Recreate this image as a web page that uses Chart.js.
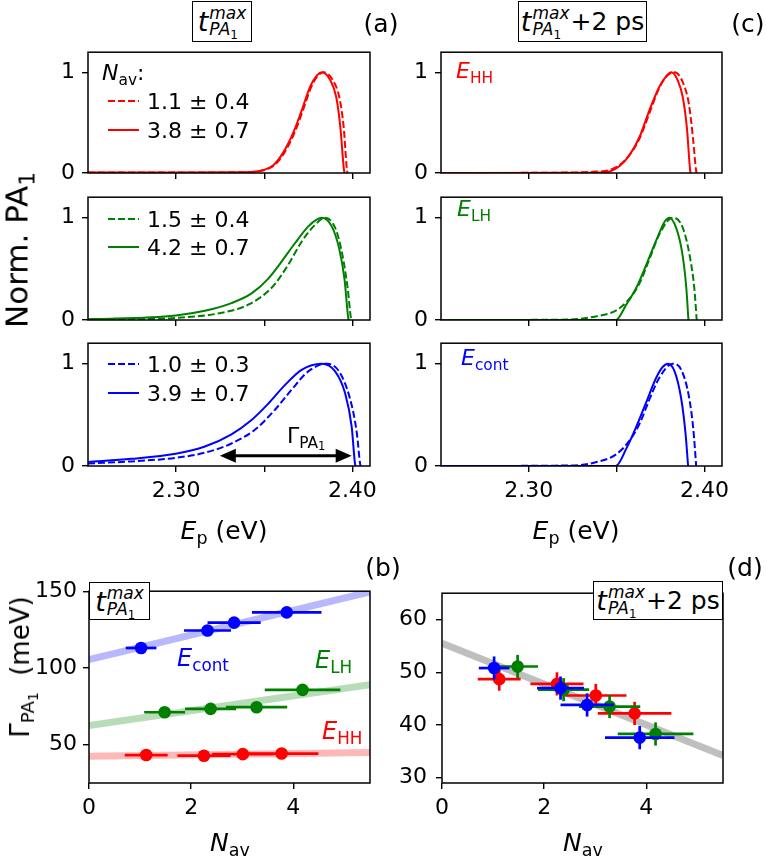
<!DOCTYPE html>
<html>
<head>
<meta charset="utf-8">
<script src="https://cdn.jsdelivr.net/npm/chart.js@4.4.0/dist/chart.umd.min.js"></script>
<style>
  body { margin: 0; background: #fff; font-family: 'DejaVu Sans', sans-serif; }
  #wrap { position: relative; width: 767px; height: 858px; overflow: hidden; }
  canvas { position: absolute; }
  .t { position: absolute; white-space: nowrap; line-height: 1; color: #000; }
  .i { font-style: italic; }
  .sb { font-size: 70%; position: relative; top: 0.3em; }
  .box { position: absolute; box-sizing: border-box; border: 1.3px solid #000; background: #fff;
         display: flex; align-items: center; justify-content: center; white-space: nowrap; }
  .stk { display: inline-flex; flex-direction: column; font-size: 17px; line-height: 0.95; margin-left: 1px; }
  .leg { position: absolute; display: flex; align-items: center; font-size: 22px; white-space: nowrap; }
  .leg svg { margin-right: 8px; }
</style>
</head>
<body>
<div id="wrap"></div>
<script>
// ---- (a) PA1 spectra at t_max, energies in eV, normalised PA1 ----
const aHHdashE = [2.25, 2.30, 2.335, 2.3445, 2.3502, 2.356, 2.3617, 2.3674, 2.3721, 2.3768, 2.3806, 2.3838, 2.389, 2.3926, 2.3951, 2.3968, 2.3972];
const aHHdashY = [0.005, 0.005, 0.007, 0.012, 0.03, 0.08, 0.21, 0.41, 0.63, 0.86, 0.97, 1.0, 0.92, 0.75, 0.45, 0.05, 0];
const aHHsolE  = [2.25, 2.30, 2.335, 2.3439, 2.3496, 2.3553, 2.361, 2.3667, 2.3714, 2.3761, 2.3799, 2.3828, 2.3875, 2.3909, 2.3932, 2.3951, 2.3955];
const aHHsolY  = [0.005, 0.005, 0.007, 0.012, 0.03, 0.08, 0.21, 0.41, 0.63, 0.86, 0.97, 1.0, 0.92, 0.75, 0.45, 0.05, 0];

const aLHdashE = [2.25, 2.28, 2.2998, 2.3258, 2.3409, 2.3542, 2.3636, 2.3712, 2.3788, 2.3845, 2.3905, 2.3943, 2.3973, 2.3992, 2.3995];
const aLHdashY = [0.0, 0.008, 0.02, 0.07, 0.15, 0.315, 0.54, 0.765, 0.93, 1.0, 0.89, 0.64, 0.315, 0.015, 0];
const aLHsolE  = [2.25, 2.2557, 2.2998, 2.3163, 2.3314, 2.3428, 2.3523, 2.3598, 2.3674, 2.375, 2.3797, 2.3826, 2.3883, 2.3924, 2.3955, 2.3977, 2.398];
const aLHsolY  = [0.008, 0.01, 0.045, 0.09, 0.165, 0.26, 0.405, 0.57, 0.75, 0.915, 0.98, 1.0, 0.915, 0.705, 0.405, 0.015, 0];

const aContDashE = [2.25, 2.2746, 2.2998, 2.3163, 2.3314, 2.3447, 2.3561, 2.3655, 2.375, 2.3854, 2.3924, 2.3987, 2.4025, 2.4044, 2.4047];
const aContDashY = [0.025, 0.045, 0.08, 0.13, 0.22, 0.355, 0.55, 0.745, 0.925, 1.0, 0.925, 0.655, 0.325, 0.02, 0];
const aContSolE  = [2.25, 2.2746, 2.2998, 2.3163, 2.3314, 2.3428, 2.3523, 2.3617, 2.3712, 2.3826, 2.3902, 2.3958, 2.3996, 2.4015, 2.4018];
const aContSolY  = [0.04, 0.07, 0.12, 0.19, 0.31, 0.45, 0.61, 0.79, 0.94, 1.0, 0.925, 0.715, 0.385, 0.02, 0];

// ---- (c) PA1 spectra at t_max + 2 ps ----
const cHHdashE = [2.25, 2.32, 2.3365, 2.346, 2.3517, 2.3574, 2.3631, 2.3688, 2.3744, 2.379, 2.383, 2.3877, 2.3911, 2.3934, 2.3953, 2.3956];
const cHHdashY = [0, 0.004, 0.012, 0.03, 0.08, 0.18, 0.345, 0.6, 0.85, 0.97, 1.0, 0.9, 0.69, 0.36, 0.02, 0];
const cHHsolE  = [2.25, 2.33, 2.3403, 2.346, 2.3517, 2.3574, 2.3631, 2.3688, 2.3744, 2.3782, 2.3811, 2.3848, 2.3877, 2.39, 2.3919, 2.3922];
const cHHsolY  = [0, 0.002, 0.005, 0.015, 0.07, 0.18, 0.36, 0.63, 0.86, 0.96, 1.0, 0.92, 0.75, 0.45, 0.02, 0];

const cLHdashE = [2.25, 2.3176, 2.3365, 2.3498, 2.3574, 2.3631, 2.3688, 2.3744, 2.382, 2.3877, 2.3919, 2.3943, 2.3956];
const cLHdashY = [0, 0.003, 0.03, 0.095, 0.21, 0.36, 0.6, 0.84, 1.0, 0.9, 0.6, 0.3, 0];
const cLHsolE  = [2.25, 2.3495, 2.3555, 2.3612, 2.3669, 2.3726, 2.3773, 2.3801, 2.3839, 2.3873, 2.3896, 2.3909];
const cLHsolY  = [0, 0, 0.15, 0.315, 0.54, 0.78, 0.96, 1.0, 0.9, 0.66, 0.33, 0];

const cContDashE = [2.25, 2.3233, 2.3365, 2.3498, 2.3574, 2.3631, 2.3688, 2.3744, 2.382, 2.3868, 2.3911, 2.3937, 2.3953];
const cContDashY = [0, 0.005, 0.03, 0.115, 0.25, 0.415, 0.655, 0.865, 1.0, 0.94, 0.685, 0.355, 0];
const cContSolE  = [2.25, 2.3495, 2.3555, 2.3612, 2.3669, 2.3726, 2.3763, 2.3792, 2.383, 2.3868, 2.3892, 2.3907];
const cContSolY  = [0, 0, 0.17, 0.385, 0.625, 0.865, 0.97, 1.0, 0.925, 0.655, 0.325, 0];

const legendHH = ['1.1 ± 0.4', '3.8 ± 0.7'];
const legendLH = ['1.5 ± 0.4', '4.2 ± 0.7'];
const legendCont = ['1.0 ± 0.3', '3.9 ± 0.7'];

// width arrow in the lowest (a) panel
const arrowE = [2.3248, 2.3996];
const arrowY = 0.1;

const eTicks = [2.30, 2.35, 2.40];
const eTickLabels = ['2.30', '', '2.40'];
const normTicks = [0, 1];

// ---- (b), (d) linewidth vs N_av ----
const nHH = [1.12, 2.25, 3.01, 3.77];
const nErrHH = [0.42, 0.52, 0.6, 0.72];
const nLH = [1.48, 2.38, 3.28, 4.18];
const nErrLH = [0.4, 0.5, 0.6, 0.74];
const nCont = [1.02, 2.32, 2.84, 3.87];
const nErrCont = [0.3, 0.46, 0.52, 0.68];

const gMaxHH = [43.2, 42.8, 43.8, 44.2];
const gMaxLH = [71.1, 73.3, 74.4, 85.7];
const gMaxCont = [113, 124.4, 129.5, 136.2];

const g2psHH = [48.7, 47.8, 45.6, 42.2];
const g2psLH = [51.1, 46.7, 43.5, 38.3];
const g2psCont = [50.8, 47.0, 43.8, 37.6];
const g2psErr = [2.2, 2.2, 2.2, 2.2];

const fitN = [0, 5.5];
const fitMaxHH = [42.5, 44.8];
const fitMaxLH = [62.5, 89];
const fitMaxCont = [105.5, 149.6];
const fit2ps = [55.5, 34.2];

const nTicks = [0, 2, 4];
const gMaxTicks = [50, 100, 150];
const g2psTicks = [30, 40, 50, 60];

const RED = '#ff0000', GREEN = '#008000', BLUE = '#0000ff';
const FONT = { family: 'DejaVu Sans', size: 22 };
const wrap = document.getElementById('wrap');

const pts = (xs, ys) => xs.map((x, i) => ({ x, y: ys[i] }));

// matplotlib-like closed frame around the plot area
const framePlugin = {
  id: 'frame',
  afterDraw(chart) {
    const { ctx, chartArea: a } = chart;
    ctx.save();
    ctx.strokeStyle = '#000';
    ctx.lineWidth = 1.5;
    ctx.strokeRect(a.left, a.top, a.right - a.left, a.bottom - a.top);
    ctx.restore();
  }
};

// error bars drawn just under each series' own markers
const errPlugin = {
  id: 'errbars',
  beforeDatasetDraw(chart, args) {
    const ds = chart.data.datasets[args.index];
    if (!ds.xErr && !ds.yErr) return;
    const { ctx, scales: { x, y } } = chart;
    ctx.save();
    ctx.strokeStyle = ds.backgroundColor;
    ctx.lineWidth = 2.7;
    ds.data.forEach((p, i) => {
      const px = x.getPixelForValue(p.x), py = y.getPixelForValue(p.y);
      if (ds.xErr) {
        ctx.beginPath();
        ctx.moveTo(x.getPixelForValue(p.x - ds.xErr[i]), py);
        ctx.lineTo(x.getPixelForValue(p.x + ds.xErr[i]), py);
        ctx.stroke();
      }
      if (ds.yErr) {
        ctx.beginPath();
        ctx.moveTo(px, y.getPixelForValue(p.y - ds.yErr[i]));
        ctx.lineTo(px, y.getPixelForValue(p.y + ds.yErr[i]));
        ctx.stroke();
      }
    });
    ctx.restore();
  }
};

const arrowPlugin = {
  id: 'arrow',
  afterDatasetsDraw(chart) {
    const { ctx, scales: { x, y } } = chart;
    const x1 = x.getPixelForValue(arrowE[0]), x2 = x.getPixelForValue(arrowE[1]);
    const yy = y.getPixelForValue(arrowY);
    const hl = 16, hw = 7;
    ctx.save();
    ctx.strokeStyle = '#000'; ctx.fillStyle = '#000'; ctx.lineWidth = 3;
    ctx.beginPath(); ctx.moveTo(x1 + hl - 2, yy); ctx.lineTo(x2 - hl + 2, yy); ctx.stroke();
    ctx.beginPath(); ctx.moveTo(x1, yy); ctx.lineTo(x1 + hl, yy - hw); ctx.lineTo(x1 + hl, yy + hw); ctx.closePath(); ctx.fill();
    ctx.beginPath(); ctx.moveTo(x2, yy); ctx.lineTo(x2 - hl, yy - hw); ctx.lineTo(x2 - hl, yy + hw); ctx.closePath(); ctx.fill();
    ctx.restore();
  }
};

function axis(min, max, ticks, labels, isX, pad) {
  return {
    type: 'linear', min, max,
    afterBuildTicks: s => { s.ticks = ticks.map(v => ({ value: v })); },
    afterFit: s => { if (isX) s.height = 60; else s.width = 70; },
    ticks: { color: '#000', font: FONT, padding: pad, maxRotation: 0, autoSkip: false,
             callback: (v, i) => labels[i] },
    grid: { drawOnChartArea: false, drawTicks: true, tickLength: 6, color: '#000', lineWidth: 1.4 },
    border: { display: false }
  };
}

// box = plot area in page pixels {l, t, r, b}
function panel(box, datasets, xs, ys, extra) {
  const padTop = 10, padRight = 24;
  const w = box.r - box.l + 70 + padRight, h = box.b - box.t + padTop + 60;
  const cv = document.createElement('canvas');
  cv.width = w; cv.height = h;
  cv.style.left = (box.l - 70) + 'px'; cv.style.top = (box.t - padTop) + 'px';
  cv.style.width = w + 'px'; cv.style.height = h + 'px';
  wrap.appendChild(cv);
  return new Chart(cv, {
    type: 'scatter',
    data: { datasets },
    options: {
      responsive: false, animation: false, devicePixelRatio: 1, events: [],
      layout: { padding: { top: padTop, right: padRight, left: 0, bottom: 0 } },
      plugins: { legend: { display: false }, tooltip: { enabled: false } },
      scales: { x: xs, y: ys }
    },
    plugins: [framePlugin, errPlugin].concat(extra || [])
  });
}

function curve(xs, ys, color, dashed) {
  return { data: pts(xs, ys), showLine: true, pointRadius: 0, borderColor: color, borderWidth: 2,
           borderDash: dashed ? [7, 3] : [], cubicInterpolationMode: 'monotone', fill: false };
}
function fitLine(xs, ys, color) {
  return { data: pts(xs, ys), showLine: true, pointRadius: 0, borderColor: color, borderWidth: 7, fill: false };
}
function dots(xs, ys, xe, ye, color) {
  return { data: pts(xs, ys), showLine: false, pointRadius: 6.3, pointBorderWidth: 0,
           backgroundColor: color, pointBackgroundColor: color, xErr: xe, yErr: ye };
}

const rows = [[42, 173], [187, 320], [333, 466]];
const leftCol = [88, 370], rightCol = [441, 722];
const topSets = [
  [[aHHdashE, aHHdashY, aHHsolE, aHHsolY], [cHHdashE, cHHdashY, cHHsolE, cHHsolY], RED],
  [[aLHdashE, aLHdashY, aLHsolE, aLHsolY], [cLHdashE, cLHdashY, cLHsolE, cLHsolY], GREEN],
  [[aContDashE, aContDashY, aContSolE, aContSolY], [cContDashE, cContDashY, cContSolE, cContSolY], BLUE]
];
topSets.forEach(([aS, cS, col], r) => {
  const labs = r === 2 ? eTickLabels : ['', '', ''];
  const mk = (s, cols) => panel(
    { l: cols[0], r: cols[1], t: rows[r][0], b: rows[r][1] },
    [curve(s[2], s[3], col, false), curve(s[0], s[1], col, true)],
    axis(2.25, 2.41, eTicks, labs, true, 6),
    axis(0, 1.2, normTicks, ['0', '1'], false, 7),
    (r === 2 && cols === leftCol) ? [arrowPlugin] : []
  );
  mk(aS, leftCol);
  mk(cS, rightCol);
});

// (b)
panel({ l: 89, r: 370, t: 582, b: 783 }, [
  dots(nCont, gMaxCont, nErrCont, null, BLUE),
  dots(nLH, gMaxLH, nErrLH, null, GREEN),
  dots(nHH, gMaxHH, nErrHH, null, RED),
  fitLine(fitN, fitMaxCont, 'rgba(0,0,255,0.28)'),
  fitLine(fitN, fitMaxLH, 'rgba(0,128,0,0.28)'),
  fitLine(fitN, fitMaxHH, 'rgba(255,0,0,0.28)')
], axis(0, 5.5, nTicks, ['0', '2', '4'], true, 6), axis(25, 150, gMaxTicks, ['50', '100', '150'], false, 6));

// (d)
panel({ l: 442, r: 723, t: 581, b: 783 }, [
  dots(nCont, g2psCont, nErrCont, g2psErr, BLUE),
  dots(nLH, g2psLH, nErrLH, g2psErr, GREEN),
  dots(nHH, g2psHH, nErrHH, g2psErr, RED),
  fitLine(fitN, fit2ps, 'rgba(128,128,128,0.5)')
], axis(0, 5.5, nTicks, ['0', '2', '4'], true, 6), axis(29, 65, g2psTicks, ['30', '40', '50', '60'], false, 9));

// ---- text overlays ----
function text(html, x, y, size, opts) {
  const d = document.createElement('div');
  d.className = 't';
  d.innerHTML = html;
  d.style.fontSize = size + 'px';
  d.style.left = x + 'px'; d.style.top = y + 'px';
  const o = opts || {};
  d.style.transform = (o.left ? 'translate(0,-50%)' : 'translate(-50%,-50%)') + (o.rot ? ' rotate(-90deg)' : '');
  if (o.color) d.style.color = o.color;
  wrap.appendChild(d);
}
function tBox(x, y, w, h, extra) {
  const d = document.createElement('div');
  d.className = 'box';
  d.style.left = x + 'px'; d.style.top = y + 'px'; d.style.width = w + 'px'; d.style.height = h + 'px';
  d.innerHTML = '<span class="i" style="font-size:27px">t</span><span class="stk"><span class="i">max</span>' +
    '<span><span class="i">PA</span><span style="font-size:12px;position:relative;top:4px">1</span></span></span>' +
    (extra ? '<span style="font-size:25px;margin-left:1px">' + extra + '</span>' : '');
  wrap.appendChild(d);
}
function legendRow(x, y, color, dashed, label) {
  const d = document.createElement('div');
  d.className = 'leg';
  d.style.left = x + 'px'; d.style.top = (y - 12) + 'px'; d.style.height = '24px';
  d.innerHTML = '<svg width="31" height="6"><line x1="0" y1="3" x2="31" y2="3" stroke="' + color +
    '" stroke-width="2" ' + (dashed ? 'stroke-dasharray="7 3"' : '') + '/></svg><span>' + label + '</span>';
  wrap.appendChild(d);
}

tBox(192, 1, 60, 41);
tBox(518, 1, 129, 41, '+2 ps');
tBox(89, 582, 61, 38);
tBox(593, 581, 130, 39, '+2 ps');

text('(a)', 381, 23, 25);
text('(c)', 748, 23, 25);
text('(b)', 383, 567, 25);
text('(d)', 745, 567, 25);

text('<span class="i">N</span><span class="sb">av</span>:', 102, 73, 22, { left: true });
legendRow(108, 101, RED, true, legendHH[0]);
legendRow(108, 130, RED, false, legendHH[1]);
legendRow(108, 219, GREEN, true, legendLH[0]);
legendRow(108, 247, GREEN, false, legendLH[1]);
legendRow(108, 364, BLUE, true, legendCont[0]);
legendRow(108, 393, BLUE, false, legendCont[1]);

text('Γ<span class="sb">PA<span style="font-size:75%;position:relative;top:0.25em">1</span></span>', 287, 436, 22, { left: true });

text('<span class="i">E</span><span class="sb">HH</span>', 456, 71, 22, { left: true, color: RED });
text('<span class="i">E</span><span class="sb">LH</span>', 457, 209, 22, { left: true, color: GREEN });
text('<span class="i">E</span><span class="sb">cont</span>', 461, 358, 22, { left: true, color: BLUE });

text('Norm. PA<span class="sb">1</span>', 17, 250, 31, { rot: true });
text('<span class="i">E</span><span class="sb">p</span> (eV)', 224, 530, 25);
text('<span class="i">E</span><span class="sb">p</span> (eV)', 576, 530, 25);

text('<span class="i">E</span><span class="sb">cont</span>', 177, 658, 24, { left: true, color: BLUE });
text('<span class="i">E</span><span class="sb">LH</span>', 315, 660, 24, { left: true, color: GREEN });
text('<span class="i">E</span><span class="sb">HH</span>', 322, 731, 24, { left: true, color: RED });

text('Γ<span class="sb">PA<span style="font-size:75%;position:relative;top:0.25em">1</span></span>&nbsp; (meV)', 20, 667, 26, { rot: true });
text('<span class="i">N</span><span class="sb">av</span>', 230, 842, 25);
text('<span class="i">N</span><span class="sb">av</span>', 583, 842, 25);
</script>
</body>
</html>
